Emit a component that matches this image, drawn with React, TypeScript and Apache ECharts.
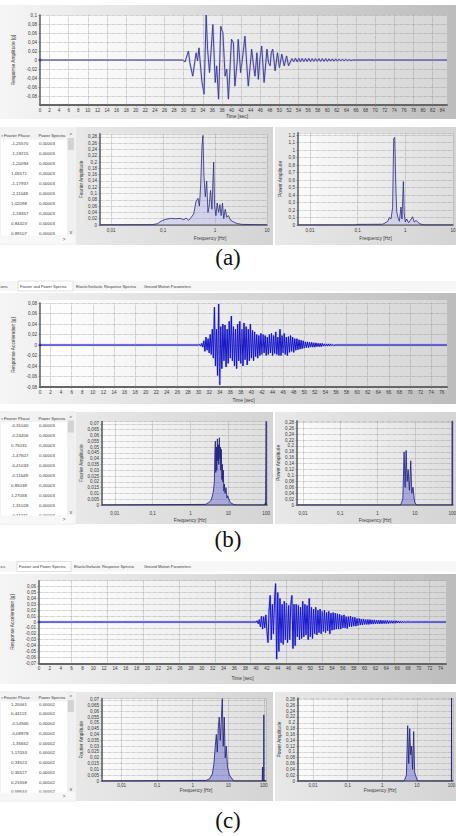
import React, { useEffect, useRef } from "react";
import * as echarts from "echarts";

// ---------------- time histories ----------------
const timeAPoints: [number, number][] = [
  [0, 0], [29.8, 0], [30.3, -0.004], [31.0, 0.02], [31.3, -0.006], [31.9, -0.036], [32.6, 0.016], [32.9, -0.002],
  [33.2, 0.027], [33.8, -0.047], [34.27, -0.076], [34.7, 0.1], [35.0, 0.024], [35.4, -0.028], [35.7, 0.016],
  [36.1, 0.079], [36.6, -0.05], [36.9, -0.013], [37.3, -0.087], [37.75, 0.075], [38.2, 0.06], [38.65, -0.036],
  [39.0, -0.02], [39.35, -0.087], [40.0, 0.046], [40.4, 0.038], [40.7, -0.058], [41.2, -0.002], [41.4, 0.046],
  [41.9, -0.028], [42.35, 0.009], [42.8, 0.053], [43.2, -0.013], [43.5, -0.058], [43.9, -0.013], [44.2, 0.024],
  [44.6, -0.013], [44.9, -0.036], [45.3, 0.016], [45.6, -0.043], [45.96, 0.005], [46.3, 0.031], [46.8, -0.05],
  [47.4, 0.024], [47.7, -0.005], [48.06, -0.013], [48.3, 0.016], [48.6, 0.024], [49.1, -0.024], [49.6, 0.016],
  [50.0, -0.017], [50.5, 0.013], [51.0, -0.013], [51.5, 0.009], [51.9, -0.013], [52.6, 0.003],
  [53.0, -0.004], [53.35, 0.004], [53.7, -0.004], [54.05, 0.004], [54.4, -0.004], [54.75, 0.0035], [55.1, -0.0035],
  [55.45, 0.0035], [55.8, -0.0035], [56.15, 0.0035], [56.5, -0.0035], [56.85, 0.003], [57.2, -0.003], [57.55, 0.003],
  [57.9, -0.003], [58.25, 0.003], [58.6, -0.003], [58.95, 0.003], [59.3, -0.003], [59.65, 0.003], [60.0, -0.003],
  [60.35, 0.0025], [60.7, -0.0025], [61.05, 0.0025], [61.4, -0.0025], [61.75, 0.0025], [62.1, -0.0025],
  [62.45, 0.002], [62.8, -0.002], [63.15, 0.002], [63.5, -0.002], [63.85, 0.0015], [64.2, -0.0015], [64.55, 0.001],
  [64.9, -0.001], [65.3, 0], [85, 0],
];

const timeBStart = 30.0;
const timeBStep = 0.2;
const timeBValues = [
  0.001, -0.002, 0.003, -0.004,
  0.008, -0.012, 0.015, -0.01, 0.012, -0.015,
  0.02, -0.018, 0.03, -0.025,
  0.072, -0.04,
  0.03, -0.058,
  0.078, -0.076,
  0.035, -0.045, 0.04, -0.03, 0.038, -0.042, 0.03, -0.035, 0.045, -0.025,
  0.055, -0.03, 0.035, -0.04, 0.03,
  -0.045, 0.04, -0.03, 0.045, -0.035, 0.03, -0.04, 0.042, -0.028, 0.035, -0.038, 0.03, -0.03, 0.04, -0.025, 0.028, -0.03,
  0.025, -0.022, 0.02, -0.025, 0.018, -0.02, 0.022, -0.018, 0.02, -0.015, 0.018, -0.02, 0.015,
  -0.018, 0.02, -0.015, 0.022, -0.02, 0.018, -0.016, 0.025, -0.018, 0.015, -0.02, 0.03, -0.02, 0.018, -0.015, 0.022,
  -0.018, 0.015, -0.02, 0.016, -0.014, 0.018, -0.012, 0.015, -0.014,
  0.012, -0.01, 0.012, -0.009, 0.01, -0.008, 0.009, -0.007, 0.008, -0.006,
  0.006, -0.005, 0.006, -0.005, 0.005, -0.004, 0.005, -0.004, 0.004, -0.004, 0.004, -0.003, 0.003, -0.003, 0.003,
  -0.003, 0.003, -0.002, 0.002, -0.002, 0.002, -0.002, 0.002, -0.0015, 0.0015, -0.001, 0.001, -0.001,
];

const timeCStart = 40.0;
const timeCStep = 0.2;
const timeCValues = [
  0.002, -0.003, 0.004,
  -0.008, 0.01, -0.012, 0.009, -0.01, 0.012, -0.015,
  -0.035, 0.02,
  0.045, -0.03, 0.03,
  -0.02, 0.035,
  0.065, -0.063,
  0.05, -0.05, 0.04,
  -0.035, 0.03, -0.038, 0.035, -0.03, 0.032, -0.035, 0.028, -0.03, 0.03,
  0.045, -0.045, 0.03, -0.04,
  0.03, -0.025, 0.028, -0.03, 0.025, -0.028, 0.035, -0.025, 0.03, -0.022, 0.028, -0.03, 0.04, -0.025, 0.025, -0.028,
  0.022, -0.02, 0.025, -0.022,
  0.02, -0.018, 0.022, -0.02, 0.018, -0.016, 0.02, -0.018, 0.016, -0.015, 0.018, -0.02, 0.015, -0.014, 0.016, -0.013,
  0.015, -0.012, 0.014, -0.012, 0.013,
  -0.012, 0.011, -0.01, 0.012, -0.01, 0.009, -0.011, 0.009, -0.008, 0.01, -0.008, 0.008, -0.007, 0.008, -0.007, 0.006,
  -0.006, 0.006, -0.005,
  0.005, -0.005, 0.005, -0.004, 0.004, -0.004, 0.004, -0.004, 0.004, -0.0035, 0.0035, -0.0035, 0.0035, -0.003, 0.003,
  -0.003, 0.003, -0.003, 0.003, -0.003, 0.0025, -0.0025, 0.0025, -0.0025, 0.0025, -0.0025, 0.002, -0.002, 0.002,
  -0.002, 0.002, -0.002, 0.002, -0.0015, 0.0015, -0.0015, 0.0015, -0.0015, 0.001, -0.001, 0.001, -0.001, 0.001,
  -0.0008, 0.0008, -0.0005,
];

const timeMaxA = 85;
const timeMaxB = 77;
const timeMaxC = 75;
const vGridA = [2, 6, 10, 14, 18, 22, 26, 30, 34, 38, 42, 46, 50, 54, 58, 62, 66, 70, 74, 78, 82];
const vGridB = [2, 6, 10, 14, 18, 22, 26, 30, 34, 38, 42, 46, 50, 54, 58, 62, 66, 70, 74];
const vGridC = [6, 12.6, 19.2, 25.8, 32.4, 39, 45.6, 52.2, 58.8, 65.4, 72];

// ---------------- spectra ----------------
const fourierA: [number, number][] = [
  [0.0062, 0.0005], [0.062, 0.001], [0.077, 0.004], [0.096, 0.014], [0.112, 0.018], [0.139, 0.021], [0.173, 0.02],
  [0.216, 0.021], [0.25, 0.017], [0.277, 0.022], [0.311, 0.015], [0.35, 0.025], [0.388, 0.035], [0.43, 0.075],
  [0.47, 0.085], [0.5, 0.06], [0.53, 0.13], [0.56, 0.25], [0.585, 0.285], [0.61, 0.16], [0.65, 0.09], [0.69, 0.14],
  [0.73, 0.04], [0.77, 0.06], [0.82, 0.11], [0.87, 0.05], [0.94, 0.2], [0.98, 0.06], [1.04, 0.03], [1.1, 0.07],
  [1.17, 0.04], [1.24, 0.065], [1.31, 0.03], [1.39, 0.07], [1.47, 0.02], [1.57, 0.05], [1.68, 0.025], [1.81, 0.03],
  [2.0, 0.015], [2.26, 0.01], [2.6, 0.005], [3.25, 0.002], [9.1, 0.0005], [10, 0],
];
const powerA: [number, number][] = [
  [0.0057, 0], [0.093, 0], [0.095, 0.008], [0.2, 0.009], [0.33, 0.01], [0.36, 0.02], [0.43, 0.05], [0.46, 0.1],
  [0.5, 0.08], [0.54, 0.23], [0.57, 1.15], [0.6, 1.17], [0.63, 0.53], [0.66, 0.18], [0.7, 0.1], [0.75, 0.05],
  [0.81, 0.24], [0.85, 0.08], [0.91, 0.58], [0.95, 0.15], [1.0, 0.04], [1.07, 0.08], [1.17, 0.03], [1.27, 0.06],
  [1.42, 0.11], [1.54, 0.04], [1.68, 0.06], [1.97, 0.02], [2.3, 0.005], [2.6, 0], [10, 0],
];
const fourierB: [number, number][] = [
  [0.0046, 0], [2.48, 0.0005], [3.0, 0.002], [3.5, 0.004], [3.95, 0.01], [4.28, 0.02], [4.4, 0.045], [4.54, 0.055],
  [4.65, 0.028], [4.83, 0.05], [4.95, 0.03], [5.13, 0.057], [5.25, 0.038], [5.45, 0.052], [5.6, 0.035], [5.79, 0.058],
  [5.95, 0.04], [6.15, 0.05], [6.3, 0.03], [6.54, 0.048], [6.75, 0.022], [6.95, 0.035], [7.15, 0.02], [7.38, 0.03],
  [7.6, 0.012], [7.84, 0.018], [8.2, 0.01], [8.7, 0.015], [9.2, 0.006], [9.6, 0.008], [11.3, 0.002], [13.8, 0.0005],
  [16, 0], [93, 0], [95, 0.002], [96.5, 0], [99, 0], [100, 0.072], [101, 0], [105, 0],
];
const powerB: [number, number][] = [
  [0.0069, 0], [4.0, 0], [4.28, 0.005], [4.74, 0.02], [5.13, 0.18], [5.47, 0.06], [5.81, 0.185], [6.2, 0.08],
  [6.58, 0.12], [7.14, 0.05], [7.73, 0.15], [8.23, 0.04], [8.9, 0.06], [9.8, 0.01], [11, 0], [99, 0], [100, 0.285],
  [101, 0], [105, 0],
];
const fourierC: [number, number][] = [
  [0.0028, 0], [2.41, 0.0005], [2.99, 0.002], [3.55, 0.006], [3.95, 0.015], [4.3, 0.03], [4.6, 0.04], [4.9, 0.025],
  [5.2, 0.045], [5.57, 0.055], [5.95, 0.035], [6.3, 0.05], [6.78, 0.071], [7.2, 0.03], [7.7, 0.055], [8.2, 0.02],
  [8.8, 0.03], [9.5, 0.012], [10.8, 0.005], [13.4, 0.001], [15, 0], [90, 0], [91.5, 0.012], [93, 0], [99, 0],
  [100, 0.057], [101, 0], [115, 0],
];
const powerC: [number, number][] = [
  [0.0037, 0], [4.2, 0], [4.44, 0.005], [4.97, 0.02], [5.42, 0.19], [5.8, 0.06], [6.2, 0.18], [6.6, 0.09],
  [7.05, 0.12], [7.5, 0.04], [8.07, 0.17], [8.6, 0.03], [9.4, 0.015], [10.5, 0], [99, 0], [100, 0.285], [101, 0],
  [110, 0],
];

// ---------------- tables / texts ----------------
const tableHeaders = ["r Fourier Phase", "Power Spectra"];
const phaseA = ["-1,25570", "-1,19215", "-1,20094", "1,05571", "-1,17937", "-2,11048", "1,02098", "-1,18457", "0,84423", "0,89107"];
const powerColA = ["0,00003", "0,00003", "0,00003", "0,00003", "0,00003", "0,00003", "0,00003", "0,00003", "0,00003", "0,00003"];
const phaseB = ["-0,31040", "-0,24406", "0,75031", "-1,47607", "-0,41033", "-0,11649", "0,85038", "1,27058", "-1,31028", "-0,11271"];
const powerColB = ["0,00003", "0,00003", "0,00003", "0,00003", "0,00003", "0,00003", "0,00003", "0,00003", "0,00003", "0,00003"];
const phaseC = ["1,20061", "0,44113", "-0,14946", "-0,08878", "-1,35662", "1,17053", "0,33523", "0,35527", "0,21658", "0,59644"];
const powerColC = ["0,00002", "0,00002", "0,00002", "0,00002", "0,00002", "0,00002", "0,00002", "0,00002", "0,00002", "0,00002"];
const tabLabels = ["Fourier and Power Spectra", "Elastic/Inelastic Response Spectra", "Ground Motion Parameters"];
const panelLabels = ["(a)", "(b)", "(c)"];
const yNameTimeA = "Response Amplitude [g]";
const yNameTime = "Response Acceleration [g]";

// ---------------- helpers ----------------
const FONT = '"Liberation Sans", Arial, sans-serif';
const SERIF = '"Liberation Serif", "Times New Roman", serif';
const TXT = "#3a3a3a";
const GRIDC = "#8c8c8c";
const AX = "#666666";

const comma = (v: number) => String(+v.toFixed(4)).replace(".", ",");
const logLabel = (v: number) => {
  const l = Math.log10(v);
  return Math.abs(l - Math.round(l)) < 1e-6 ? comma(Math.pow(10, Math.round(l))) : "";
};

function sampled(t0: number, dt: number, vals: number[], tEnd: number): [number, number][] {
  const d: [number, number][] = [[0, 0], [t0, 0]];
  vals.forEach((v, i) => d.push([+(t0 + (i + 1) * dt).toFixed(3), v]));
  d.push([+(t0 + (vals.length + 1) * dt).toFixed(3), 0]);
  d.push([tEnd, 0]);
  return d;
}

const nameStyle = (pad?: number[]) => ({ fontSize: 4.8, color: TXT, fontFamily: FONT, padding: pad || 0 });
const dotted = { show: true, lineStyle: { type: "dotted", color: GRIDC, width: 0.6 } };

function timeX(gi: number, max: number, gap: number, pad?: number[]) {
  return {
    type: "value", gridIndex: gi, min: 0, max, interval: 2,
    name: "Time [sec]", nameLocation: "middle", nameGap: gap, nameTextStyle: nameStyle(pad),
    axisLine: { show: true, onZero: false, lineStyle: { color: AX, width: 2 } },
    axisTick: { show: true, length: 1.5, lineStyle: { color: AX, width: 0.6 } },
    axisLabel: { fontSize: 4.6, color: TXT, fontFamily: FONT, margin: 3, showMaxLabel: false },
    splitLine: { show: false },
  };
}
function valY(gi: number, min: number, max: number, interval: number, name: string, gap: number, showMin: boolean, showMax: boolean) {
  return {
    type: "value", gridIndex: gi, min, max, interval,
    name, nameLocation: "middle", nameGap: gap, nameRotate: 90, nameTextStyle: nameStyle(),
    axisLine: { show: true, onZero: false, lineStyle: { color: AX, width: 1.6 } },
    axisTick: { show: true, length: 1.5, lineStyle: { color: AX, width: 0.6 } },
    axisLabel: { fontSize: 4.6, color: TXT, fontFamily: FONT, margin: 3, showMinLabel: showMin, showMaxLabel: showMax, formatter: (v: number) => comma(v) },
    splitLine: dotted,
  };
}
function logX(gi: number, min: number, max: number, margin: number, gap: number, pad?: number[]) {
  return {
    type: "log", logBase: 10, gridIndex: gi, min, max,
    name: "Frequency [Hz]", nameLocation: "middle", nameGap: gap, nameTextStyle: nameStyle(pad),
    axisLine: { show: true, onZero: false, lineStyle: { color: AX, width: 1.6 } },
    axisTick: { show: false },
    axisLabel: { fontSize: 4.6, color: TXT, fontFamily: FONT, margin, formatter: logLabel },
    splitLine: dotted, minorTick: { show: false }, minorSplitLine: { show: false },
  };
}
function vgrid(gi: number, times: number[]) {
  return {
    type: "line", xAxisIndex: gi, yAxisIndex: gi, data: [[0, 0]], showSymbol: false, silent: true, z: 1,
    lineStyle: { opacity: 0 },
    markLine: {
      silent: true, symbol: ["none", "none"], label: { show: false }, animation: false,
      lineStyle: { type: "dotted", color: GRIDC, width: 0.6 },
      data: times.map((t) => ({ xAxis: t })),
    },
  };
}
const grad = (a: string, b: string) =>
  new echarts.graphic.LinearGradient(0, 0, 1, 0, [{ offset: 0, color: a }, { offset: 1, color: b }]);
function rect(x: number, y: number, w: number, h: number, fill: any, z = -10, stroke?: string) {
  return { type: "rect", silent: true, z, shape: { x, y, width: w, height: h }, style: { fill, stroke: stroke || "none", lineWidth: stroke ? 0.6 : 0 } };
}
function txt(x: number, y: number, text: string, size = 4.6, opt: any = {}) {
  const align = opt.align || "left";
  return {
    type: "text", silent: true, z: opt.z ?? -6, x, y,
    style: { text, fontSize: size, fontFamily: opt.family || FONT, fill: opt.fill || TXT, textAlign: align, align, textVerticalAlign: "middle", verticalAlign: "middle" },
  };
}
function table(y0: number, headY: number, rowY0: number, step: number, bottom: number, phase: string[], power: string[]) {
  const els: any[] = [];
  els.push(rect(0, y0, 75, bottom - y0, "#ffffff", -10, "#d4d4d4"));
  els.push(rect(0, y0 + 0.5, 67, headY - y0 + 3.5, "#f2f2f2", -9));
  els.push(txt(1.5, headY, tableHeaders[0], 4.1));
  els.push(txt(38.5, headY, tableHeaders[1], 4.1));
  phase.forEach((p, i) => {
    els.push(txt(11, rowY0 + i * step, p, 4.4, { z: -7 }));
    els.push(txt(39, rowY0 + i * step, power[i], 4.4, { z: -7 }));
  });
  els.push(rect(67, y0 + 0.5, 7.5, bottom - y0 - 9, "#efefef", -5));
  els.push(rect(67.8, headY + 2.5, 6, 12, "#d2d2d2", -4));
  els.push(txt(70.8, headY, "^", 4.5, { align: "center", z: -3 }));
  els.push(txt(70.8, bottom - 11.5, "v", 4.5, { align: "center", z: -3 }));
  els.push(rect(0, bottom - 8.5, 75, 8, "#f7f7f7", -5));
  els.push(txt(64, bottom - 4.5, ">", 4.5, { align: "center", z: -3 }));
  return els;
}
function tabs(y: number, lead: string, xs: number[]) {
  const els: any[] = [];
  els.push(rect(0, y - 5, 456, 10, "#f6f6f6", -10));
  els.push(rect(xs[0] - 2, y - 5, xs[1] - xs[0] - 1, 10, "#ffffff", -9, "#cccccc"));
  els.push(txt(0.5, y, lead, 3.9));
  tabLabels.forEach((t, i) => els.push(txt(xs[i], y, t, 3.9)));
  return els;
}

function buildOption() {
  const timeA = timeAPoints;
  const timeB = sampled(timeBStart, timeBStep, timeBValues, timeMaxB);
  const timeC = sampled(timeCStart, timeCStep, timeCValues, timeMaxC);

  const grids = [
    { left: 40, top: 15, width: 407, height: 90 },
    { left: 100, top: 133.8, width: 167, height: 91.2 },
    { left: 298, top: 132.75, width: 155, height: 92.25 },
    { left: 40, top: 303, width: 407, height: 84 },
    { left: 102, top: 421.5, width: 165, height: 83.5 },
    { left: 297, top: 420.9, width: 156, height: 84.1 },
    { left: 39, top: 580.7, width: 407, height: 82.6 },
    { left: 102, top: 698.6, width: 164, height: 82.4 },
    { left: 298, top: 698, width: 155, height: 83 },
  ].map((g) => ({ ...g, containLabel: false, outerBoundsMode: "none" }));

  const xAxis = [
    timeX(0, timeMaxA, 8, [0, 13, 0, 0]),
    logX(1, 0.0061, 10, 3, 11, [0, 0, 0, 53]),
    logX(2, 0.0056, 10, 3, 11),
    timeX(3, timeMaxB, 11),
    logX(4, 0.0046, 105, 6, 13, [0, 0, 0, 11]),
    logX(5, 0.0069, 105, 6, 13),
    timeX(6, timeMaxC, 13),
    logX(7, 0.0028, 115, 1.5, 7, [0, 0, 0, 24]),
    logX(8, 0.0037, 110, 1.5, 7, [0, 0, 0, 9]),
  ];
  const yAxis = [
    valY(0, -0.1, 0.1, 0.02, yNameTimeA, 17, false, true),
    valY(1, 0, 0.29, 0.02, "Fourier Amplitude", 15, true, false),
    valY(2, 0, 1.23, 0.1, "Power Amplitude", 15, true, false),
    valY(3, -0.08, 0.08, 0.02, yNameTime, 20, true, true),
    valY(4, 0, 0.072, 0.005, "Fourier Amplitude", 17, true, false),
    valY(5, 0, 0.285, 0.02, "Power Amplitude", 15, true, false),
    valY(6, -0.07, 0.07, 0.01, yNameTime, 18, true, false),
    valY(7, 0, 0.071, 0.005, "Fourier Amplitude", 17, true, false),
    valY(8, 0, 0.285, 0.02, "Power Amplitude", 15, true, false),
  ];

  const lineS = (gi: number, data: any, color: string, width: number, area?: string, z = 3) => ({
    type: "line", xAxisIndex: gi, yAxisIndex: gi, data, showSymbol: false, silent: true, z,
    lineStyle: { color, width }, areaStyle: area ? { color: area, origin: "start" } : undefined,
  });
  const startDot = (gi: number, p: [number, number], color: string) => ({
    type: "scatter", xAxisIndex: gi, yAxisIndex: gi, data: [p], symbol: "rect", symbolSize: 2.5, silent: true, z: 4,
    itemStyle: { color },
  });

  const series = [
    vgrid(0, vGridA), vgrid(3, vGridB), vgrid(6, vGridC),
    lineS(0, timeA, "rgba(150,150,225,0.35)", 2.2, undefined, 2),
    lineS(0, timeA, "#34348e", 0.9),
    startDot(0, timeA[0], "#333366"),
    lineS(1, fourierA, "#2a2a7e", 0.8, "rgba(160,160,235,0.45)"),
    lineS(2, powerA, "#2a2a7e", 0.8, "rgba(160,160,235,0.45)"),
    lineS(3, timeB, "rgba(110,110,255,0.35)", 2.4, undefined, 2),
    lineS(3, timeB, "#1313c4", 1.0),
    startDot(3, timeB[0], "#222288"),
    lineS(4, fourierB, "#1c1c78", 0.8, "rgba(70,70,200,0.55)"),
    lineS(5, powerB, "#1c1c78", 0.8, "rgba(70,70,200,0.55)"),
    lineS(6, timeC, "rgba(110,110,255,0.35)", 2.4, undefined, 2),
    lineS(6, timeC, "#1717cc", 1.0),
    startDot(6, timeC[0], "#333388"),
    lineS(7, fourierC, "#1c1c78", 0.8, "rgba(70,70,200,0.55)"),
    lineS(8, powerC, "#1c1c78", 0.8, "rgba(70,70,200,0.55)"),
  ];

  const outerG = () => grad("#f5f5f5", "#bdbdbd");
  const plotG = () => grad("#ffffff", "#d6d6d6");
  const boxG = () => grad("#e8e8e8", "#d4d4d4");
  const innerG = () => grad("#fbfbfb", "#dedede");

  const els: any[] = [
    // panel a
    rect(0, 5, 456, 114, outerG()), rect(40, 15, 407, 90, plotG(), -9),
    rect(76, 127, 197, 118, boxG()), rect(100, 133.8, 167, 91.2, innerG(), -9),
    rect(275, 127, 181, 118, boxG()), rect(298, 132.75, 155, 92.25, innerG(), -9),
    ...table(128, 135.5, 143.5, 10, 244, phaseA, powerColA),
    // panel b
    ...tabs(286, "ions", [20, 76, 144]),
    rect(0, 293, 456, 111, outerG()), rect(40, 300, 407, 90, plotG(), -9),
    rect(76, 412, 197, 112, boxG()), rect(102, 421.5, 165, 83.5, innerG(), -9),
    rect(275, 412, 181, 112, boxG()), rect(297, 420.9, 156, 84.1, innerG(), -9),
    ...table(412, 418, 425.5, 10, 524, phaseB, powerColB),
    // panel c
    ...tabs(566.5, "ics", [19, 74, 144]),
    rect(0, 574, 456, 110, outerG()), rect(39, 580.7, 407, 82.6, plotG(), -9),
    rect(76, 692, 197, 109, boxG()), rect(102, 698.6, 164, 82.4, innerG(), -9),
    rect(275, 692, 181, 109, boxG()), rect(298, 698, 155, 83, innerG(), -9),
    ...table(692, 697.5, 704, 9.75, 801, phaseC, powerColC),
    // labels
    txt(228, 257, panelLabels[0], 23, { align: "center", family: SERIF, fill: "#111", z: 5 }),
    txt(228, 539, panelLabels[1], 23, { align: "center", family: SERIF, fill: "#111", z: 5 }),
    txt(228, 820, panelLabels[2], 23, { align: "center", family: SERIF, fill: "#111", z: 5 }),
  ];

  return {
    animation: false,
    backgroundColor: "#ffffff",
    textStyle: { fontFamily: FONT },
    grid: grids,
    xAxis,
    yAxis,
    series,
    graphic: { elements: els },
  };
}

export default function App() {
  const ref = useRef<HTMLDivElement>(null);
  useEffect(() => {
    if (!ref.current) return;
    const chart = echarts.init(ref.current, undefined, { renderer: "svg" });
    chart.setOption(buildOption() as any);
    return () => chart.dispose();
  }, []);
  return <div ref={ref} style={{ position: "absolute", left: 0, top: 0, width: 456, height: 836, background: "#fff" }} />;
}
